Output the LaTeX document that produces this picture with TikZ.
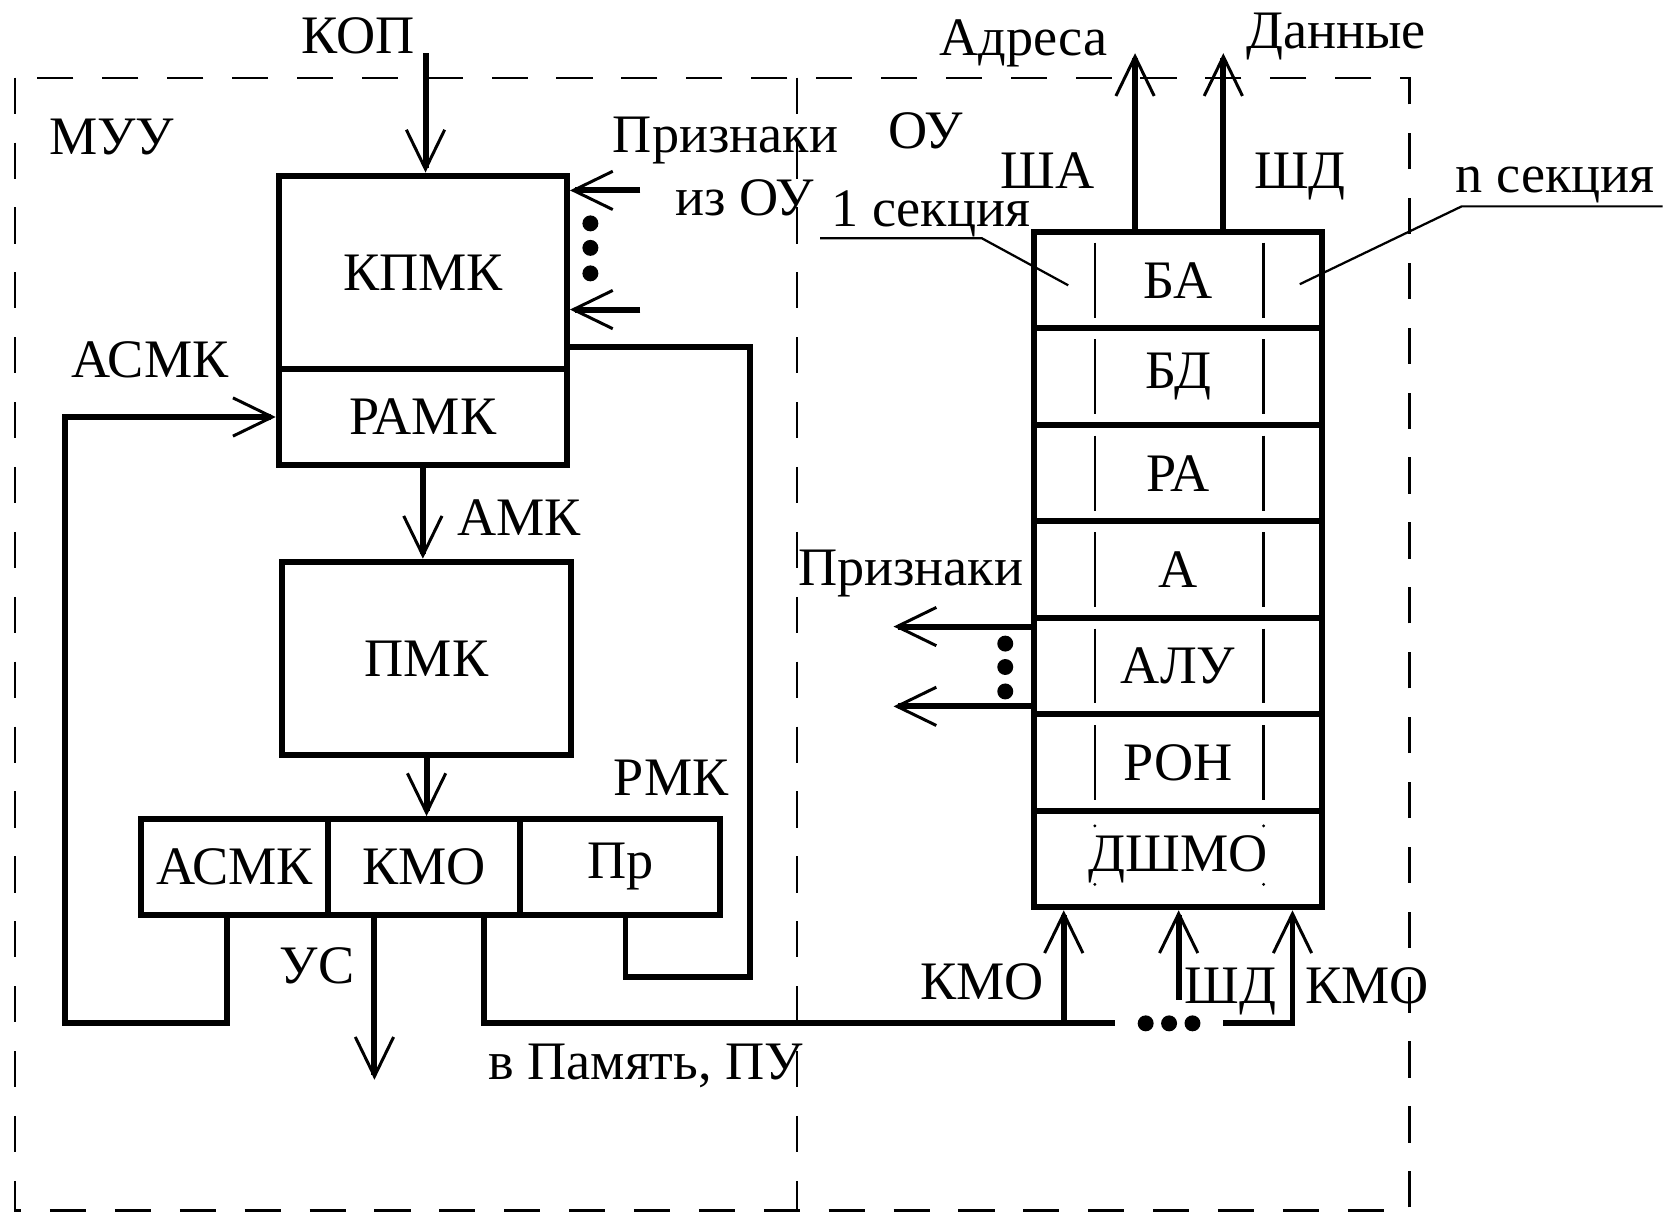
\documentclass[tikz,border=0pt]{standalone}
\usepackage{fontspec}
\setmainfont{Liberation Serif}
\usetikzlibrary{arrows.meta}

\begin{document}
\begin{tikzpicture}[x=0.1mm,y=-0.1mm,font=\fontsize{14.5}{17}\selectfont,
ln/.style={line width=1.6pt},
arr/.style={ln,-{Straight Barb[length=3.7mm,width=3.6mm,line width=0.8pt]}},
thn/.style={line width=0.6pt},
brd/.style={thn,dash pattern=on 3.4mm off 2.7mm},
blk/.style n args={2}{draw,ln,minimum width=#1,minimum height=#2,inner sep=0pt},
lbl/.style={inner sep=0pt,anchor=base},
pnt/.style={circle,fill,inner sep=0pt,minimum size=1.5mm}]
\useasboundingbox (0,0) rectangle (1568,1142);
% borders MUU / OU
\draw[brd] (14,73) rectangle (1325,1138);
\draw[brd] (749,73) -- (749,1138);
% MUU
\node[blk={27.1mm}{18.2mm}] (kpmk) at (397.5,256) {КПМК};
\node[blk={27.1mm}{9mm}] (ramk) at (397.5,392) {РАМК};
\node[blk={27.2mm}{18.2mm}] (pmk) at (401,619) {ПМК};
\node[blk={17.5mm}{9mm}] (asmk) at (220.5,815) {АСМК};
\node[blk={18.1mm}{9mm}] (kmo) at (398.5,815) {КМО};
\node[blk={18.8mm}{9mm}] (pr) at (583,815) {Пр};
\node[lbl] (kop) at (337,50) {КОП};
\node[lbl] (muu) at (105,145) {МУУ};
\node[lbl] (prz) at (682,143) {Признаки};
\node[lbl] (izou) at (700,203) {из ОУ};
\node[lbl] (asmkl) at (141,355) {АСМК};
\node[lbl] (amk) at (488,503) {АМК};
\node[lbl] (rmk) at (631,748) {РМК};
\node[lbl] (us) at (298,925) {УС};
\node[lbl] (mem) at (607,1015) {в Память, ПУ};
\coordinate (kopin) at (400,50);
\coordinate (in1) at (602,179);
\coordinate (in2) at (602,291);
\coordinate (usout) at (352,1015);
\draw[arr] (kopin) -- (kopin |- kpmk.north);
\foreach \c in {in1,in2}
   \draw[arr] (\c) -- (\c -| kpmk.east);
\foreach \y in {210,233,257}
   \node[pnt] at (555,\y) {};
\draw[arr] (ramk.south) -- (ramk.south |- pmk.north);
\draw[arr] (pmk.south) -- (pmk.south |- kmo.north);
\draw[arr] ([xshift=-0.7mm]asmk.south) |- (61,962) |- (ramk.west);
\draw[ln] ([xshift=0.5mm]pr.south) |- (705,918) |- ([yshift=2.4mm]kpmk.south east);
\draw[arr] (usout |- kmo.south) -- (usout);
% OU
\foreach \nm/\txt [count=\i from 0] in {ba/БА,bd/БД,ra/РА,a/А,alu/АЛУ,ron/РОН,dsh/ДШМО}
   \node[blk={27.1mm}{9.07mm}] (\nm) at (1107.5,{263.35+90.7*\i}) {\txt};
\foreach \nm in {ba,bd,ra,a,alu,ron} {
   \draw[thn] ([shift={(6mm,-1.3mm)}]\nm.north west) -- ([shift={(6mm,1.3mm)}]\nm.south west);
   \draw[thn] ([shift={(-5.8mm,-1.3mm)}]\nm.north east) -- ([shift={(-5.8mm,1.3mm)}]\nm.south east);
}
\foreach \dx/\dy in {6/-1.7,6/-7.2}
   \fill ([shift={(\dx mm,\dy mm)}]dsh.north west) circle (0.15mm);
\foreach \dx/\dy in {-5.8/-1.7,-5.8/-7.2}
   \fill ([shift={(\dx mm,\dy mm)}]dsh.north east) circle (0.15mm);
\node[lbl] (adrl) at (962,52) {Адреса};
\node[lbl] (datl) at (1256,46) {Данные};
\node[lbl] (sha) at (985,177) {ША};
\node[lbl] (shd1) at (1222,177) {ШД};
\node[lbl] (ou) at (870,140) {ОУ};
\node[lbl] (sec1) at (875,213) {1 секция};
\node[lbl] (secn) at (1462,181) {n секция};
\node[lbl] (prz2) at (856,550) {Признаки};
\node[lbl] (kmo1) at (923,940) {КМО};
\node[lbl] (shd2) at (1157,943) {ШД};
\node[lbl] (kmo2) at (1285,943) {КМО};
\coordinate (adr) at (1067,50);
\coordinate (dat) at (1150,50);
\draw[arr] (adr |- ba.north) -- (adr);
\draw[arr] (dat |- ba.north) -- (dat);
\coordinate (s1) at (771,224);
\coordinate (sn) at (1563,194);
\draw[thn] (s1) -- (923,224) -- ([shift={(3.5mm,-5.3mm)}]ba.north west);
\draw[thn] (sn) -- (1374,194) -- ([shift={(-2.4mm,-5.2mm)}]ba.north east);
\coordinate (out1) at (840,589);
\coordinate (out2) at (840,664);
\foreach \c in {out1,out2}
   \draw[arr] (\c -| alu.west) -- (\c);
\foreach \y in {605,627,650}
   \node[pnt] at (945,\y) {};
% bus
\coordinate (busa) at (1048,962);
\coordinate (busb) at (1150,962);
\coordinate (tap1) at (1000,962);
\coordinate (tap3) at (1215,962);
\coordinate (shd) at (1108,940);
\draw[ln] ([xshift=-3.7mm]kmo.south east) |- (busa);
\draw[arr] (tap1) -- (tap1 |- dsh.south);
\draw[arr] (shd) -- (shd |- dsh.south);
\draw[arr] (busb) -| (tap3 |- dsh.south);
\foreach \x in {1077,1099,1121}
   \node[pnt] at (\x,962) {};
\end{tikzpicture}
\end{document}
